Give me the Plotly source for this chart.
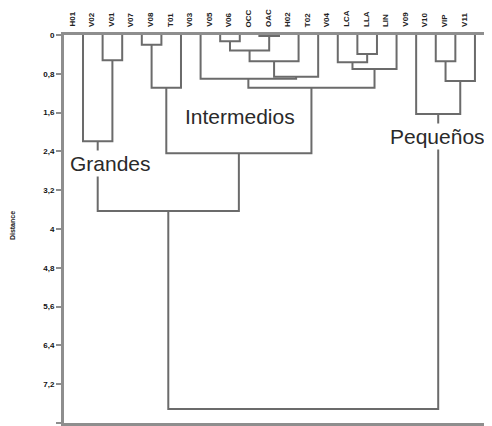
import plotly.graph_objects as go

# ---- data ----
leaf_labels = ["H01", "V02", "V01", "V07", "V08", "T01", "V03", "V05", "V06", "OCC", "OAC",
               "H02", "T02", "V04", "LCA", "LLA", "LIN", "V09", "V10", "VIP", "V11"]
# merges: (left child, right child, distance); ids >= 21 refer to earlier merges
merge_left = [1, 0, 3, 23, 7, 9, 25, 27, 28, 6, 14, 13, 32, 30, 24, 22, 18, 37, 17, 36]
merge_right = [2, 21, 4, 5, 8, 10, 26, 11, 12, 29, 15, 31, 16, 33, 34, 35, 19, 20, 38, 39]
merge_height = [0.52, 2.19, 0.20, 1.09, 0.13, 0.02, 0.32, 0.54, 0.86, 0.90, 0.39, 0.56, 0.70,
                1.09, 2.44, 3.63, 0.54, 0.95, 1.63, 7.71]
y_tickvals = [0, 0.8, 1.6, 2.4, 3.2, 4, 4.8, 5.6, 6.4, 7.2, 8]
y_ticktext = ["0", "0,8", "1,6", "2,4", "3,2", "4", "4,8", "5,6", "6,4", "7,2", "8"]
group_names = ["Grandes", "Intermedios", "Pequeños"]
group_x = [1.38, 8.0, 18.1]
group_y = [2.65, 1.68, 2.1]

# ---- build dendrogram coordinates ----
n = len(leaf_labels)
pos = {i: (float(i), 0.0) for i in range(n)}
xs, ys = [], []
for k, (a, b, h) in enumerate(zip(merge_left, merge_right, merge_height)):
    xa, ha = pos[a]
    xb, hb = pos[b]
    xs += [xa, xa, xb, xb, None]
    ys += [ha, h, h, hb, None]
    pos[n + k] = ((xa + xb) / 2.0, h)

line_col = "#6b6b6b"
axis_col = "#8e8e8e"

fig = go.Figure()
fig.add_trace(go.Scatter(x=xs, y=ys, mode="lines",
                         line=dict(color=line_col, width=2),
                         hoverinfo="skip", showlegend=False, cliponaxis=False))

annotations = []
for i, lab in enumerate(leaf_labels):
    annotations.append(dict(x=i, y=0, xref="x", yref="y", text="<b>%s</b>" % lab,
                            textangle=-90, showarrow=False, xanchor="center",
                            yanchor="bottom", xshift=-11, yshift=6,
                            font=dict(family="Liberation Sans", size=8, color="#222")))
for name, gx, gy in zip(group_names, group_x, group_y):
    annotations.append(dict(x=gx, y=gy, xref="x", yref="y", text=name, showarrow=False,
                            xanchor="center", yanchor="middle", bgcolor="white",
                            borderpad=1,
                            font=dict(family="Liberation Sans", size=21, color="#2a2a2a")))
annotations.append(dict(x=-0.1215, y=0.51, xref="paper", yref="paper", text="<b>Distance</b>",
                        showarrow=False, textangle=-90, xanchor="center", yanchor="middle",
                        font=dict(family="Liberation Sans", size=7, color="#222")))

# page body adds an 8px offset, so the figure is sized to fit the 492x426 window
fig.update_layout(
    width=484, height=418,
    margin=dict(l=56, r=0, t=27, b=3, autoexpand=False),
    paper_bgcolor="white", plot_bgcolor="white",
    xaxis=dict(range=[-0.97, 20.87], showline=True, mirror=True, linecolor=axis_col,
               linewidth=3, showticklabels=False, ticks="", showgrid=False, zeroline=False,
               fixedrange=True, automargin=False),
    yaxis=dict(range=[8, 0], tickvals=y_tickvals,
               ticktext=["<b>%s</b>" % t for t in y_ticktext],
               ticks="outside", ticklen=5, tickwidth=1.5, tickcolor=axis_col,
               showline=True, linecolor=axis_col, linewidth=3, showgrid=False,
               zeroline=False, tickfont=dict(family="Liberation Sans", size=8, color="#111"),
               fixedrange=True, automargin=False),
    annotations=annotations,
)

fig.write_html("out.html")
